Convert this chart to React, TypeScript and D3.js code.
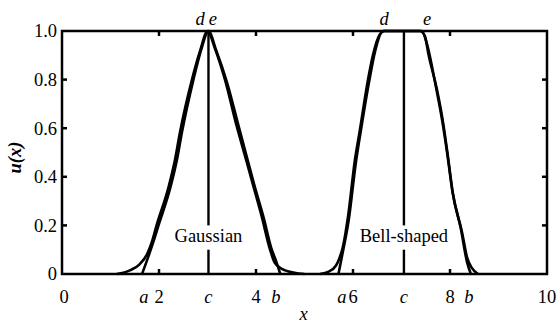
import React, { useEffect, useRef } from "react";
import * as d3 from "d3";

// curve points (x, u)
const gaussTailX = [1.13, 1.4, 1.6, 1.75, 1.85, 1.95, 2.2, 2.33, 2.43, 2.68, 2.85, 3.0, 3.15, 3.36, 3.6, 3.81, 3.92, 4.12, 4.29, 4.39, 4.6, 5.0];
const gaussTailY = [0, 0.015, 0.04, 0.08, 0.13, 0.2, 0.36, 0.47, 0.58, 0.8, 0.92, 1.0, 0.93, 0.8, 0.61, 0.46, 0.38, 0.235, 0.1, 0.045, 0.015, 0];
const gaussCutX = [1.65, 1.76, 1.88, 1.99, 2.24, 2.37, 2.47, 2.71, 2.88, 3.02, 3.18, 3.4, 3.64, 3.84, 3.96, 4.16, 4.31, 4.42, 4.5];
const gaussCutY = [0, 0.06, 0.13, 0.2, 0.36, 0.47, 0.58, 0.8, 0.93, 1.0, 0.92, 0.79, 0.61, 0.46, 0.37, 0.23, 0.11, 0.05, 0];

const bellTailX = [5.32, 5.5, 5.65, 5.72, 5.79, 5.9, 6.04, 6.14, 6.31, 6.41, 6.55, 6.65, 7.38, 7.48, 7.56, 7.73, 7.86, 7.96, 8.06, 8.25, 8.35, 8.45, 8.58];
const bellTailY = [0, 0.01, 0.035, 0.065, 0.11, 0.24, 0.47, 0.59, 0.8, 0.9, 0.985, 1.0, 1.0, 0.98, 0.9, 0.76, 0.62, 0.48, 0.33, 0.17, 0.07, 0.025, 0];
const bellCutX = [5.7, 5.78, 5.91, 6.06, 6.17, 6.34, 6.46, 6.62, 7.42, 7.52, 7.7, 7.84, 7.94, 8.05, 8.22, 8.35, 8.43];
const bellCutY = [0, 0.08, 0.22, 0.46, 0.6, 0.8, 0.92, 1.0, 1.0, 0.95, 0.78, 0.63, 0.5, 0.34, 0.19, 0.05, 0];

// letter marks on the axis (x position)
const gaussMarks = { a: 1.69, c: 3.02, b: 4.41, d: 2.85, e: 3.11 };
const bellMarks = { a: 5.77, c: 7.05, b: 8.39, d: 6.64, e: 7.53 };
const centerLabels = ["Gaussian", "Bell-shaped"];
const labelGap = [0.1, 0.2]; // u range where the centre line is broken by the label

const xTicks = [0, 2, 4, 6, 8, 10];
const yTicks = [0, 0.2, 0.4, 0.6, 0.8, 1.0];

const W = 560;
const H = 323;
const margin = { top: 31, right: 13, bottom: 49, left: 62 };
const font = "'Liberation Serif', 'Times New Roman', serif";

export default function App() {
  const ref = useRef<SVGSVGElement>(null);

  useEffect(() => {
    const svg = d3.select(ref.current);
    svg.selectAll("*").remove();

    const x = d3.scaleLinear().domain([0, 10]).range([margin.left, W - margin.right]);
    const y = d3.scaleLinear().domain([0, 1]).range([H - margin.bottom, margin.top]);

    const line = d3
      .line<[number, number]>()
      .x((d) => x(d[0]))
      .y((d) => y(d[1]))
      .curve(d3.curveMonotoneX);

    const zip = (xs: number[], ys: number[]) => xs.map((v, i) => [v, ys[i]] as [number, number]);

    const g = svg.append("g");

    // centre lines, broken around label
    [gaussMarks.c, bellMarks.c].forEach((c) => {
      g.append("line")
        .attr("x1", x(c)).attr("x2", x(c))
        .attr("y1", y(1)).attr("y2", y(labelGap[1]))
        .attr("stroke", "#000").attr("stroke-width", 2.4);
      g.append("line")
        .attr("x1", x(c)).attr("x2", x(c))
        .attr("y1", y(labelGap[0])).attr("y2", y(0))
        .attr("stroke", "#000").attr("stroke-width", 2.4);
    });

    // curves
    [
      zip(gaussTailX, gaussTailY),
      zip(gaussCutX, gaussCutY),
      zip(bellTailX, bellTailY),
      zip(bellCutX, bellCutY),
    ].forEach((pts) => {
      g.append("path")
        .attr("d", line(pts))
        .attr("fill", "none")
        .attr("stroke", "#000")
        .attr("stroke-width", 2.6)
        .attr("stroke-linejoin", "round");
    });

    // labels in the middle
    [gaussMarks.c, bellMarks.c].forEach((c, i) => {
      g.append("text")
        .attr("x", x(c))
        .attr("y", y((labelGap[0] + labelGap[1]) / 2) - 2)
        .attr("dy", "0.35em")
        .attr("text-anchor", "middle")
        .attr("font-family", font)
        .attr("font-size", 18.5)
        .text(centerLabels[i]);
    });

    // frame
    g.append("rect")
      .attr("x", x(0)).attr("y", y(1))
      .attr("width", x(10) - x(0)).attr("height", y(0) - y(1))
      .attr("fill", "none").attr("stroke", "#000").attr("stroke-width", 2.5);

    const tickLen = 5;
    xTicks.slice(1, -1).forEach((t) => {
      g.append("line").attr("x1", x(t)).attr("x2", x(t)).attr("y1", y(0)).attr("y2", y(0) - tickLen)
        .attr("stroke", "#000").attr("stroke-width", 2.5);
      g.append("line").attr("x1", x(t)).attr("x2", x(t)).attr("y1", y(1)).attr("y2", y(1) + tickLen)
        .attr("stroke", "#000").attr("stroke-width", 2.5);
    });
    yTicks.slice(1, -1).forEach((t) => {
      g.append("line").attr("x1", x(0)).attr("x2", x(0) + tickLen).attr("y1", y(t)).attr("y2", y(t))
        .attr("stroke", "#000").attr("stroke-width", 2.5);
      g.append("line").attr("x1", x(10)).attr("x2", x(10) - tickLen).attr("y1", y(t)).attr("y2", y(t))
        .attr("stroke", "#000").attr("stroke-width", 2.5);
    });

    // tick labels
    const yFmt = (t: number) => (t === 0 ? "0" : t.toFixed(1));
    yTicks.forEach((t) => {
      g.append("text")
        .attr("x", x(0) - 5)
        .attr("y", y(t))
        .attr("dy", "0.35em")
        .attr("text-anchor", "end")
        .attr("font-family", font)
        .attr("font-size", 18.5)
        .text(yFmt(t));
    });
    const baseY = y(0) + 29;
    xTicks.forEach((t) => {
      g.append("text")
        .attr("x", x(t) + (t === 0 ? 2 : 0))
        .attr("y", baseY)
        .attr("text-anchor", "middle")
        .attr("font-family", font)
        .attr("font-size", 18.5)
        .text(String(t));
    });

    // italic letter marks
    const italic = (px: number, py: number, s: string) =>
      g.append("text")
        .attr("x", px).attr("y", py)
        .attr("text-anchor", "middle")
        .attr("font-family", font)
        .attr("font-style", "italic")
        .attr("font-size", 18.5)
        .text(s);
    [gaussMarks, bellMarks].forEach((m) => {
      italic(x(m.a), baseY, "a");
      italic(x(m.c), baseY, "c");
      italic(x(m.b), baseY, "b");
      italic(x(m.d), y(1) - 6, "d");
      italic(x(m.e), y(1) - 6, "e");
    });

    // axis titles
    italic((x(0) + x(10)) / 2 - 1, H - 3, "x");
    g.append("text")
      .attr("transform", `translate(21,${(y(0) + y(1)) / 2 + 5}) rotate(-90)`)
      .attr("text-anchor", "middle")
      .attr("font-family", font)
      .attr("font-size", 18.5)
      .attr("font-style", "italic")
      .attr("font-weight", "bold")
      .text("u(x)");
  }, []);

  return (
    <svg
      ref={ref}
      width={W}
      height={H}
      style={{ position: "absolute", left: 0, top: 0, background: "#fff" }}
    />
  );
}
